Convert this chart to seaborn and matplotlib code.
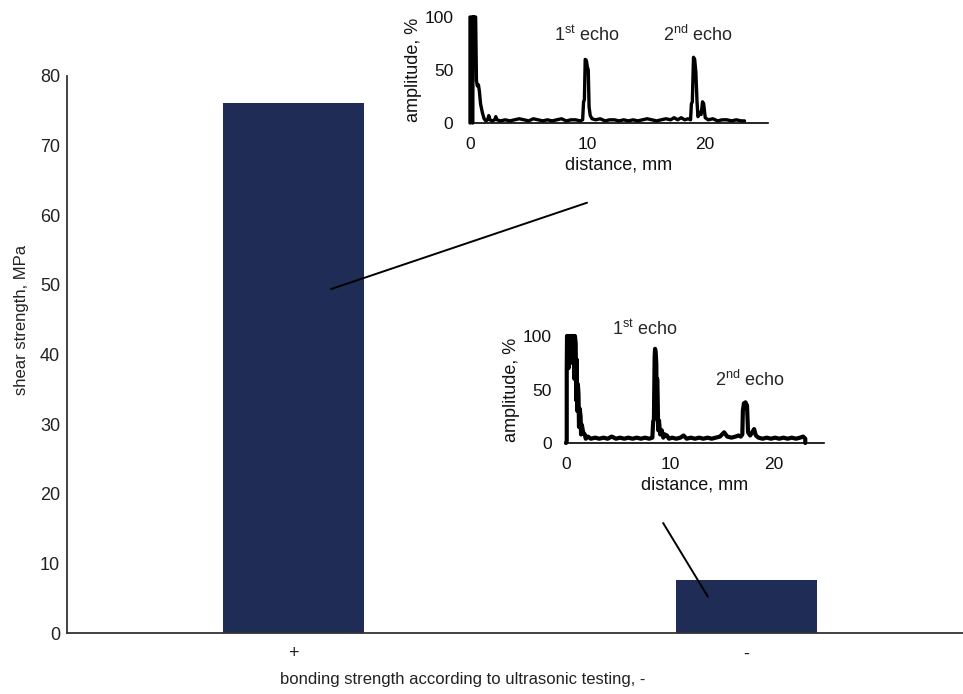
import matplotlib
matplotlib.use("Agg")
import matplotlib.pyplot as plt
import seaborn as sns
import pandas as pd

# ---------------- data ----------------
bond_categories = ["+", "-"]
shear_strength = [76.1, 7.6]

x_label = "bonding strength according to ultrasonic testing, -"
y_label = "shear strength, MPa"
main_yticks = [0, 10, 20, 30, 40, 50, 60, 70, 80]

# inset 1: A-scan of the well bonded sample (distance mm, amplitude %)
scan1_dist = [0.0, 0.0, 0.18, 0.2, 0.24, 0.26, 0.32, 0.36, 0.4, 0.48, 0.55, 0.62, 0.72, 0.8,
              0.9, 1.05, 1.2, 1.35, 1.5, 1.6, 1.7, 1.9, 2.1, 2.2, 2.3, 2.6, 3.0, 3.4, 3.8,
              4.2, 4.6, 5.0, 5.4, 5.8, 6.2, 6.6, 7.0, 7.4, 7.8, 8.2, 8.6, 9.0, 9.4, 9.6,
              9.68, 9.75, 9.82, 9.92, 10.0, 10.08, 10.15, 10.25, 10.4, 10.7, 11.1, 11.5,
              11.9, 12.3, 12.7, 13.1, 13.5, 13.9, 14.3, 14.7, 15.1, 15.5, 15.9, 16.3, 16.7,
              17.1, 17.4, 17.7, 18.0, 18.3, 18.6, 18.8, 18.87, 18.95, 19.05, 19.15, 19.25,
              19.35, 19.43, 19.55, 19.7, 19.82, 19.92, 20.05, 20.3, 20.7, 21.1, 21.5, 21.9,
              22.3, 22.7, 23.1, 23.4]
scan1_amp = [0, 100, 100, 0, 0, 100, 100, 75, 100, 100, 40, 35, 36, 30,
             18, 10, 4, 2, 3, 7, 3, 2, 3, 6, 3, 2, 3, 2, 3,
             4, 3, 2, 4, 3, 2, 3, 2, 3, 4, 2, 3, 3, 2, 3,
             20, 22, 60, 59, 53, 50, 15, 7, 4, 3, 4, 2,
             3, 3, 2, 3, 2, 3, 2, 3, 4, 3, 2, 3, 4,
             3, 5, 3, 5, 3, 4, 3, 18, 20, 62, 60, 48,
             20, 6, 10, 8, 20, 18, 5, 3, 4, 2, 3, 3,
             2, 3, 2, 2]

# inset 2: A-scan of the poorly bonded sample
scan2_dist = [0.0, 0.07, 0.07, 0.1, 0.2, 0.25, 0.32, 0.45, 0.5, 0.58, 0.75, 0.8, 0.86, 0.93,
              0.98, 1.03, 1.08, 1.14, 1.2, 1.25, 1.32, 1.4, 1.45, 1.52, 1.65, 1.8, 1.9, 2.1,
              2.4, 2.8, 3.2, 3.6, 4.0, 4.4, 4.8, 5.2, 5.6, 6.0, 6.4, 6.8, 7.2, 7.6, 8.0, 8.3,
              8.38, 8.45, 8.52, 8.56, 8.62, 8.68, 8.72, 8.76, 8.81, 8.86, 8.94, 9.05, 9.2,
              9.35, 9.5, 9.7, 9.9, 10.2, 10.6, 11.0, 11.3, 11.6, 12.0, 12.4, 12.8, 13.2, 13.6,
              14.0, 14.4, 14.8, 15.2, 15.5, 15.9, 16.3, 16.57, 16.8, 16.95, 17.0, 17.1, 17.25,
              17.4, 17.5, 17.7, 17.9, 18.08, 18.25, 18.5, 18.9, 19.3, 19.7, 20.1, 20.5, 20.9,
              21.3, 21.7, 22.1, 22.5, 22.8, 23.0, 23.0]
scan2_amp = [0, 2, 68, 100, 100, 70, 100, 100, 75, 100, 100, 60, 100, 93,
             40, 78, 30, 55, 46, 15, 32, 25, 8, 17, 10, 8, 4, 6,
             4, 5, 4, 5, 4, 6, 4, 5, 4, 5, 4, 5, 4, 5, 4, 5,
             20, 22, 80, 88, 85, 74, 30, 60, 43, 12, 21, 8, 12,
             5, 8, 7, 4, 5, 4, 5, 7, 4, 5, 4, 5, 4, 5,
             4, 5, 6, 10, 6, 5, 6, 7, 6, 8, 30, 37, 38,
             35, 10, 7, 10, 13, 7, 5, 4, 5, 4, 5, 4, 5,
             4, 5, 4, 5, 6, 4, 0]

inset_xticks = [0, 10, 20]
inset_yticks = [0, 50, 100]
inset_xlabel = "distance, mm"
inset_ylabel = "amplitude, %"
echo1_label = "1$^{\\mathrm{st}}$ echo"
echo2_label = "2$^{\\mathrm{nd}}$ echo"

# annotation connector lines (main axes data coords)
connector1_x = [0.083, 0.648]
connector1_y = [49.4, 61.8]
connector2_x = [0.816, 0.915]
connector2_y = [15.8, 5.2]

BAR_COLOR = "#1F2D56"

# ---------------- style ----------------
sns.set_theme(style="white")
plt.rcParams["font.family"] = ["Liberation Sans", "DejaVu Sans"]
plt.rcParams["mathtext.fontset"] = "custom"
plt.rcParams["mathtext.rm"] = "Liberation Sans"
plt.rcParams["mathtext.it"] = "Liberation Sans:italic"

fig = plt.figure(figsize=(9.63, 6.94), dpi=100)
ax = fig.add_axes([67 / 963, 61 / 694, 896 / 963, 557 / 694])

df = pd.DataFrame({"bond": bond_categories, "shear": shear_strength})
sns.barplot(data=df, x="bond", y="shear", color=BAR_COLOR, saturation=1,
            width=0.313, linewidth=0, ax=ax)
ax.set_xlim(-0.5, 1.478)
ax.set_ylim(0, 80)
ax.set_yticks(main_yticks)
ax.tick_params(axis="both", length=0, labelsize=13, colors="#222222")
ax.tick_params(axis="y", pad=5)
ax.tick_params(axis="x", pad=9)
for s in ["top", "right"]:
    ax.spines[s].set_visible(False)
for s in ["left", "bottom"]:
    ax.spines[s].set_color("#333333")
    ax.spines[s].set_linewidth(1.3)
ax.set_xlabel(x_label, fontsize=12, color="#222222")
ax.set_ylabel(y_label, fontsize=12, color="#222222")
ax.xaxis.set_label_coords(0.442, -0.084)
ax.yaxis.set_label_coords(-0.051, 0.562)
ax.xaxis.label.set_va("center")
ax.yaxis.label.set_va("center")

ax.plot(connector1_x, connector1_y, color="black", lw=1.4, clip_on=False)
ax.plot(connector2_x, connector2_y, color="black", lw=1.4, clip_on=False)


def style_inset(axi, xmax, ypad):
    axi.set_facecolor("none")
    axi.set_xlim(0, xmax)
    axi.set_ylim(0, 100)
    axi.set_xticks(inset_xticks)
    axi.set_yticks(inset_yticks)
    axi.tick_params(axis="both", length=0, labelsize=12.5, colors="#111111")
    axi.tick_params(axis="y", pad=ypad)
    axi.tick_params(axis="x", pad=10)
    for s in ["top", "right"]:
        axi.spines[s].set_visible(False)
    for s in ["left", "bottom"]:
        axi.spines[s].set_color("black")
        axi.spines[s].set_linewidth(1.2)
    axi.set_xlabel(inset_xlabel, fontsize=13, labelpad=3, color="#111111")
    axi.set_ylabel(inset_ylabel, fontsize=13, labelpad=2, color="#111111")


# inset 1
ax1 = fig.add_axes([470 / 963, (694 - 123) / 694, 298 / 963, 106 / 694])
sns.lineplot(x=scan1_dist, y=scan1_amp, sort=False, estimator=None,
             color="black", lw=2.4, ax=ax1, clip_on=False)
style_inset(ax1, 25.4, 12)
ax1.text(9.96, 83, echo1_label, fontsize=13, ha="center", va="center")
ax1.text(19.4, 83, echo2_label, fontsize=13, ha="center", va="center")

# inset 2
ax2 = fig.add_axes([566 / 963, (694 - 443) / 694, 258 / 963, 107 / 694])
sns.lineplot(x=scan2_dist, y=scan2_amp, sort=False, estimator=None,
             color="black", lw=3.0, ax=ax2, clip_on=False)
style_inset(ax2, 24.8, 10)
ax2.text(7.6, 106, echo1_label, fontsize=13, ha="center", va="center")
ax2.text(17.7, 59, echo2_label, fontsize=13, ha="center", va="center")

fig.savefig("out.png", dpi=100)
